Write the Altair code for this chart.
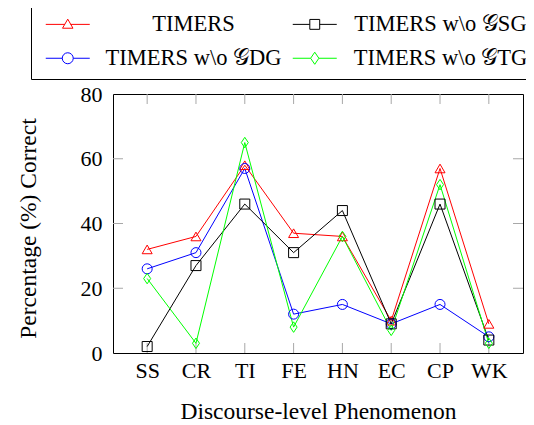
import altair as alt
import pandas as pd

categories = ["SS", "CR", "TI", "FE", "HN", "EC", "CP", "WK"]
series_names = ["TIMERS", "TIMERS w\\o 𝒢DG", "TIMERS w\\o 𝒢SG", "TIMERS w\\o 𝒢TG"]
timers = [32, 36, 58, 37, 36, 10, 57, 9]
wo_dg = [26, 31, 57, 12, 15, 9, 15, 5]
wo_sg = [2, 27, 46, 31, 44, 9, 46, 4]
wo_tg = [23, 3, 65, 8, 36, 7, 52, 3]
y_tick_values = [0, 20, 40, 60, 80]
inner_y_ticks = [20, 40, 60]
colors = ["#ff0000", "#0000ff", "#000000", "#00ff00"]

rows = []
for name, vals in zip(series_names, [timers, wo_dg, wo_sg, wo_tg]):
    for i, (c, v) in enumerate(zip(categories, vals)):
        rows.append({"cat": c, "series": name, "value": v, "idx": i})
df = pd.DataFrame(rows)
ytick_df = pd.DataFrame({"value": inner_y_ticks})
xtick_df = pd.DataFrame({"cat": categories})

W, H = 410, 259
FONT = "Liberation Serif"
GRAY = "#a8a8a8"

diamond = "M-0.7,0L0,-1.05L0.7,0L0,1.05Z"
marker_shapes = ["triangle-up", "circle", "square", diamond]

# legend symbol paths (line + marker), unit = half symbol width
leg_paths = [
    "M-1,0H2.48M3,-0.95L3.95,0.7H2.05ZM3.52,0H7",
    "M-1,0H2A1,1 0 1,1 4,0A1,1 0 1,1 2,0M4,0H7",
    "M-1,0H2.1M2.1,-0.9H3.9V0.9H2.1ZM3.9,0H7",
    "M-1,0H2.25M2.25,0L3,-1.1L3.75,0L3,1.1ZM3.75,0H7",
]

xscale = alt.Scale(type="point", domain=categories, padding=0.7)
yscale = alt.Scale(domain=[0, 80], nice=False, zero=True)
cscale = alt.Scale(domain=series_names, range=colors)
sscale = alt.Scale(domain=series_names, range=leg_paths)

legend = alt.Legend(
    title=None,
    orient="none",
    legendX=-82,
    legendY=-90,
    columns=2,
    values=series_names,
    symbolSize=121,
    symbolStrokeWidth=1,
    symbolOpacity=1,
    labelOffset=131,
    labelAlign="center",
    labelFont=FONT,
    labelFontSize=22.5,
    labelColor="black",
    columnPadding=5,
    rowPadding=11,
    padding=9,
    strokeColor="black",
    fillColor="white",
    cornerRadius=0,
    labelLimit=400,
)

x_axis = alt.Axis(title="Discourse-level Phenomenon", labelAngle=0, ticks=False,
                  tickSize=0, domain=False, labelPadding=7, titlePadding=18, grid=False)
y_axis = alt.Axis(title="Percentage (%) Correct", values=y_tick_values, ticks=False,
                  tickSize=0, domain=False, labelPadding=11, titlePadding=40, titleY=134,
                  grid=False)

X = alt.X("cat:N", scale=xscale, sort=categories, axis=x_axis)
Y = alt.Y("value:Q", scale=yscale, axis=y_axis)
C = alt.Color("series:N", scale=cscale, sort=series_names, legend=legend)

lines = alt.Chart(df).mark_line(strokeWidth=1).encode(
    x=X, y=Y, color=C, order=alt.Order("idx:Q"),
)

point_layers = []
for name, shp in zip(series_names, marker_shapes):
    point_layers.append(
        alt.Chart(df).transform_filter(alt.datum.series == name)
        .mark_point(filled=False, size=100, strokeWidth=1, opacity=1, shape=shp)
        .encode(x=X, y=Y, color=C)
    )

legend_layer = alt.Chart(df).transform_filter("false").mark_point(
    filled=False, size=121, strokeWidth=1, opacity=1
).encode(
    x=X, y=Y, color=C,
    shape=alt.Shape("series:N", scale=sscale, sort=series_names, legend=legend),
)

left_ticks = alt.Chart(ytick_df).mark_rule(color=GRAY, strokeWidth=1).encode(
    y=Y, x=alt.value(0), x2=alt.value(10))
right_ticks = alt.Chart(ytick_df).mark_rule(color=GRAY, strokeWidth=1).encode(
    y=Y, x=alt.value(W - 10), x2=alt.value(W))
bottom_ticks = alt.Chart(xtick_df).mark_rule(color=GRAY, strokeWidth=1).encode(
    x=X, y=alt.value(H - 10), y2=alt.value(H))
top_ticks = alt.Chart(xtick_df).mark_rule(color=GRAY, strokeWidth=1).encode(
    x=X, y=alt.value(0), y2=alt.value(10))

chart = alt.layer(left_ticks, right_ticks, bottom_ticks, top_ticks, lines, *point_layers, legend_layer).properties(
    width=W, height=H,
    autosize=alt.AutoSizeParams(type="none"),
    padding={"left": 105, "top": 86, "right": 3, "bottom": 75},
).configure_view(stroke="black", strokeWidth=1).configure_axis(
    labelFont=FONT, labelFontSize=22, labelColor="black",
    titleFont=FONT, titleFontSize=23.5, titleFontWeight="normal", titleColor="black",
)

chart.save("out.html", embed_options={"renderer": "svg", "actions": False})
